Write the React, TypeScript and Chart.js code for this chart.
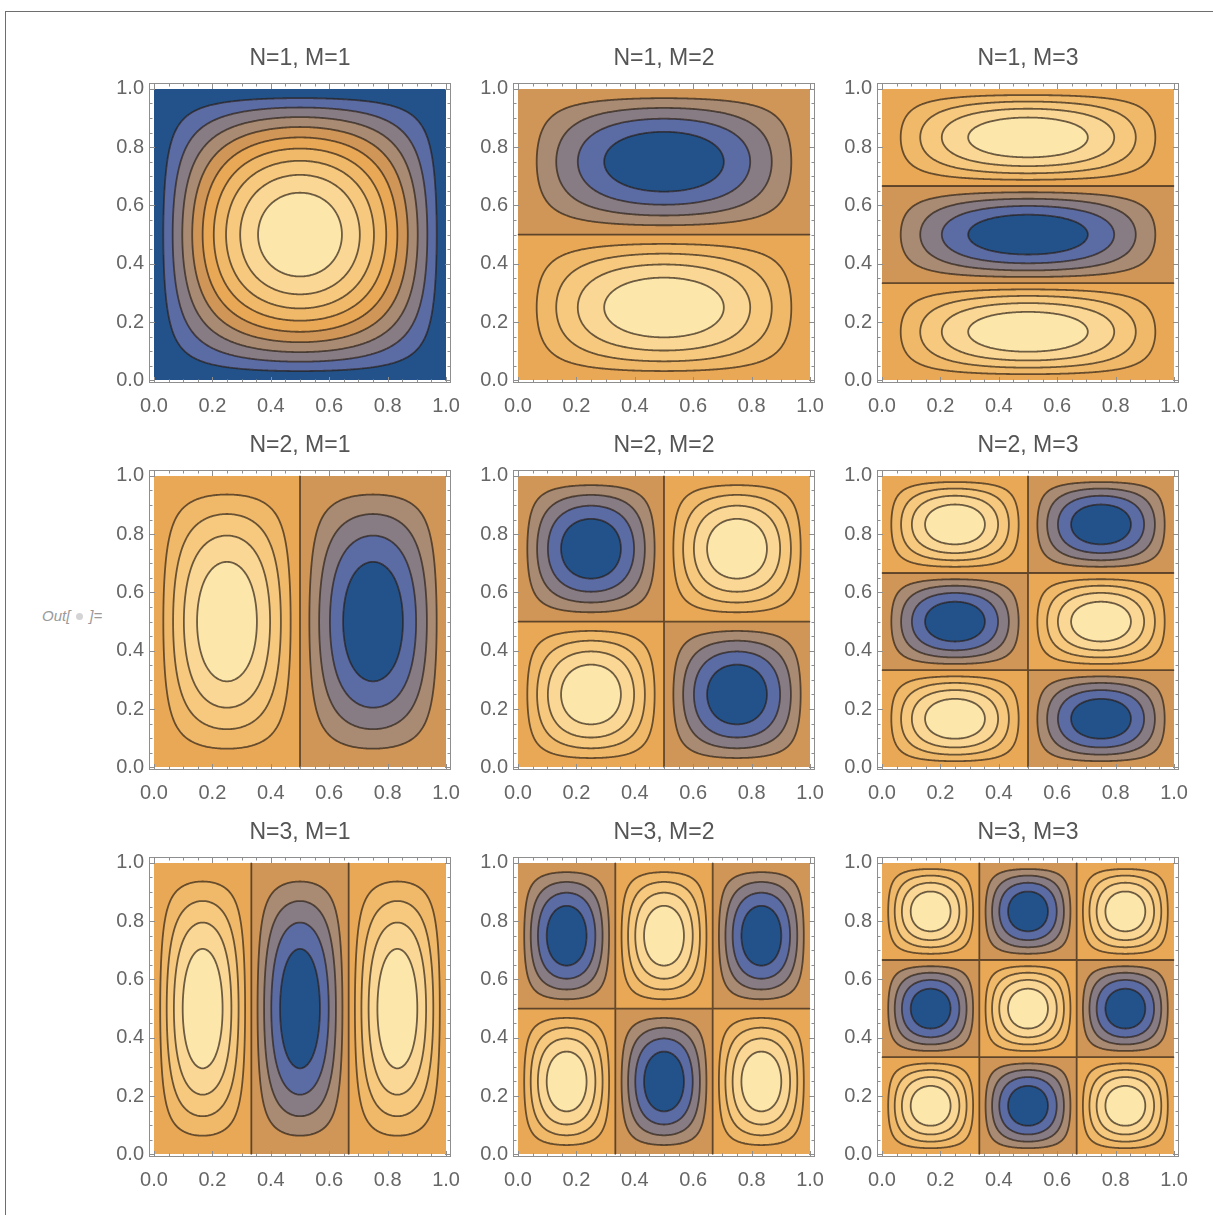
import React, { useEffect, useRef } from "react";
import { Chart, registerables } from "chart.js";

Chart.register(...registerables);

// ---- data ----
const N_VALUES = [1, 2, 3]; // mode number along x (rows)
const M_VALUES = [1, 2, 3]; // mode number along y (columns)
const LEVELS_POSITIVE = [0.1, 0.2, 0.3, 0.4, 0.5, 0.6, 0.7, 0.8, 0.9];
const LEVELS_SIGNED = [-0.8, -0.6, -0.4, -0.2, 0, 0.2, 0.4, 0.6, 0.8];
const BAND_COLORS = [
  "#23528b",
  "#5b6ba3",
  "#887c84",
  "#a98b73",
  "#d09657",
  "#e9a856",
  "#f0b96a",
  "#f6c97f",
  "#fad794",
  "#fde6aa",
];
const TICK_VALUES = [0, 0.2, 0.4, 0.6, 0.8, 1.0];
const TICK_LABELS = ["0.0", "0.2", "0.4", "0.6", "0.8", "1.0"];
const MINOR_TICK_VALUES = [
  0.05, 0.1, 0.15, 0.25, 0.3, 0.35, 0.45, 0.5, 0.55, 0.65, 0.7, 0.75, 0.85, 0.9, 0.95,
];
const X_RANGE = [-0.017, 1.017];
const Y_RANGE = [-0.009, 1.02];

// standing-wave mode shape
const modeValue = (n: number, m: number, x: number, y: number) =>
  Math.sin(n * Math.PI * x) * Math.sin(m * Math.PI * y);

const FONT = "'Liberation Sans', Arial, sans-serif";
Chart.defaults.font.family = FONT;

const STEP_X = 364;
const STEP_Y = 387;
const SIDE = 48; // y-axis band width (also mirrored on the right)
const AREA_W = 302;
const CANVAS_W = SIDE + AREA_W + SIDE;
const CANVAS_H = 387;
const GRID_LEFT = 101;
const GRID_TOP = 38;

const hexToRgb = (hex: string) => [
  parseInt(hex.slice(1, 3), 16),
  parseInt(hex.slice(3, 5), 16),
  parseInt(hex.slice(5, 7), 16),
];

const contourPlugin = {
  id: "contour",
  beforeDatasetsDraw(chart: any, _args: any, opts: any) {
    const { ctx, chartArea, scales } = chart;
    const xs = scales.x;
    const ys = scales.y;
    const n = opts.n as number;
    const m = opts.m as number;
    const levels = n === 1 && m === 1 ? LEVELS_POSITIVE : LEVELS_SIGNED;
    const rgb = BAND_COLORS.map(hexToRgb);
    const bandOf = (v: number) => {
      let k = 0;
      for (const L of levels) if (v > L) k++;
      return k;
    };

    // filled bands
    const x0 = Math.round(xs.getPixelForValue(0));
    const x1 = Math.round(xs.getPixelForValue(1));
    const yT = Math.round(ys.getPixelForValue(1));
    const yB = Math.round(ys.getPixelForValue(0));
    const w = x1 - x0;
    const h = yB - yT;
    const off = document.createElement("canvas");
    off.width = w;
    off.height = h;
    const octx = off.getContext("2d")!;
    const img = octx.createImageData(w, h);
    for (let j = 0; j < h; j++) {
      const y = ys.getValueForPixel(yT + j + 0.5);
      for (let i = 0; i < w; i++) {
        const x = xs.getValueForPixel(x0 + i + 0.5);
        const c = rgb[bandOf(modeValue(n, m, x, y))];
        const p = (j * w + i) * 4;
        img.data[p] = c[0];
        img.data[p + 1] = c[1];
        img.data[p + 2] = c[2];
        img.data[p + 3] = 255;
      }
    }
    octx.putImageData(img, 0, 0);
    ctx.drawImage(off, x0, yT);

    // contour lines (marching squares)
    const G = 240;
    const g = Array.from({ length: G }, (_, i) => (i + 0.5) / G);
    const vals = new Float64Array(G * G);
    for (let j = 0; j < G; j++)
      for (let i = 0; i < G; i++) vals[j * G + i] = modeValue(n, m, g[i], g[j]);
    const d1 = 1 / G;
    ctx.save();
    ctx.strokeStyle = "rgba(40,30,20,0.68)";
    ctx.lineWidth = 1.8;
    ctx.lineJoin = "round";
    ctx.lineCap = "round";
    for (const L of levels) {
      ctx.beginPath();
      for (let j = 0; j < G - 1; j++) {
        for (let i = 0; i < G - 1; i++) {
          const a = vals[j * G + i] - L;
          const b = vals[j * G + i + 1] - L;
          const c = vals[(j + 1) * G + i + 1] - L;
          const d = vals[(j + 1) * G + i] - L;
          const pa = a > 0, pb = b > 0, pc = c > 0, pd = d > 0;
          if (pa === pb && pb === pc && pc === pd) continue;
          const e: (number[] | null)[] = [null, null, null, null];
          if (pa !== pb) e[0] = [g[i] + (a / (a - b)) * d1, g[j]];
          if (pb !== pc) e[1] = [g[i + 1], g[j] + (b / (b - c)) * d1];
          if (pc !== pd) e[2] = [g[i + 1] - (c / (c - d)) * d1, g[j + 1]];
          if (pd !== pa) e[3] = [g[i], g[j + 1] - (d / (d - a)) * d1];
          const segs: number[][][] = [];
          const present = e.filter((q) => q !== null) as number[][];
          if (present.length === 2) segs.push(present);
          else if (present.length === 4) {
            const center = (a + b + c + d) / 4 > 0;
            if (center === pa) {
              segs.push([e[0]!, e[1]!], [e[2]!, e[3]!]);
            } else {
              segs.push([e[3]!, e[0]!], [e[1]!, e[2]!]);
            }
          }
          for (const s of segs) {
            ctx.moveTo(xs.getPixelForValue(s[0][0]), ys.getPixelForValue(s[0][1]));
            ctx.lineTo(xs.getPixelForValue(s[1][0]), ys.getPixelForValue(s[1][1]));
          }
        }
      }
      ctx.stroke();
    }
    ctx.restore();

    // frame with inward ticks on all four sides
    const { left, right, top, bottom } = chartArea;
    ctx.save();
    ctx.strokeStyle = "#8e8e8e";
    ctx.lineWidth = 1;
    ctx.strokeRect(left + 0.5, top + 0.5, right - left - 1, bottom - top - 1);
    ctx.beginPath();
    const tick = (v: number, len: number) => {
      const px = Math.round(xs.getPixelForValue(v)) + 0.5;
      ctx.moveTo(px, bottom);
      ctx.lineTo(px, bottom - len);
      ctx.moveTo(px, top);
      ctx.lineTo(px, top + len);
      const py = Math.round(ys.getPixelForValue(v)) + 0.5;
      ctx.moveTo(left, py);
      ctx.lineTo(left + len, py);
      ctx.moveTo(right, py);
      ctx.lineTo(right - len, py);
    };
    for (const v of TICK_VALUES) tick(v, 6);
    for (const v of MINOR_TICK_VALUES) tick(v, 3.5);
    ctx.stroke();
    ctx.restore();
  },
};

function Panel({ n, m, left, top }: { n: number; m: number; left: number; top: number }) {
  const ref = useRef<HTMLCanvasElement>(null);
  useEffect(() => {
    const tickOpts = (padding: number) => ({
      padding,
      autoSkip: false,
      maxRotation: 0,
      color: "#666666",
      font: { size: 20, family: FONT },
      callback: (_v: any, i: number) => TICK_LABELS[i],
    });
    const chart = new Chart(ref.current!, {
      type: "scatter",
      data: { datasets: [] },
      options: {
        animation: false,
        responsive: false,
        devicePixelRatio: 1,
        layout: { padding: { right: SIDE } },
        plugins: {
          legend: { display: false },
          tooltip: { enabled: false },
          title: {
            display: true,
            fullSize: false,
            text: `N=${n}, M=${m}`,
            color: "#555555",
            font: { size: 23, weight: "normal", family: FONT },
            padding: { top: 7, bottom: 10.4 },
          },
          contour: { n, m },
        } as any,
        scales: {
          x: {
            type: "linear",
            min: X_RANGE[0],
            max: X_RANGE[1],
            grid: { display: false, drawTicks: false },
            border: { display: false },
            afterBuildTicks: (s: any) => {
              s.ticks = TICK_VALUES.map((v) => ({ value: v }));
            },
            afterFit: (s: any) => {
              s.height = 42;
              s.paddingLeft = 0;
              s.paddingRight = 0;
            },
            ticks: tickOpts(11),
          },
          y: {
            type: "linear",
            min: Y_RANGE[0],
            max: Y_RANGE[1],
            grid: { display: false, drawTicks: false },
            border: { display: false },
            afterBuildTicks: (s: any) => {
              s.ticks = TICK_VALUES.map((v) => ({ value: v }));
            },
            afterFit: (s: any) => {
              s.width = SIDE;
              s.paddingTop = 0;
              s.paddingBottom = 0;
            },
            ticks: tickOpts(5),
          },
        },
      },
      plugins: [contourPlugin],
    } as any);
    return () => chart.destroy();
  }, [n, m]);
  return (
    <canvas
      ref={ref}
      width={CANVAS_W}
      height={CANVAS_H}
      style={{ position: "absolute", left, top, width: CANVAS_W, height: CANVAS_H }}
    />
  );
}

export default function App() {
  return (
    <div
      style={{
        position: "absolute",
        left: 0,
        top: 0,
        width: 1213,
        height: 1215,
        overflow: "hidden",
        background: "#ffffff",
      }}
    >
      <div
        style={{
          position: "absolute",
          left: 5,
          top: 11,
          width: 1208,
          height: 1204,
          borderTop: "1px solid #6e6e6e",
          borderLeft: "1px solid #6e6e6e",
          boxSizing: "border-box",
        }}
      />
      <div
        style={{
          position: "absolute",
          left: 42,
          top: 607,
          fontFamily: FONT,
          fontStyle: "italic",
          fontSize: 15,
          lineHeight: "18px",
          color: "#9a9a9a",
          whiteSpace: "nowrap",
        }}
      >
        Out[
        <span
          style={{
            display: "inline-block",
            width: 7,
            height: 7,
            borderRadius: "50%",
            background: "#d4d4d4",
            margin: "0 6px 1px 6px",
          }}
        />
        ]=
      </div>
      {N_VALUES.map((n, r) =>
        M_VALUES.map((m, c) => (
          <Panel
            key={`${n}-${m}`}
            n={n}
            m={m}
            left={GRID_LEFT + c * STEP_X}
            top={GRID_TOP + r * STEP_Y}
          />
        ))
      )}
    </div>
  );
}
